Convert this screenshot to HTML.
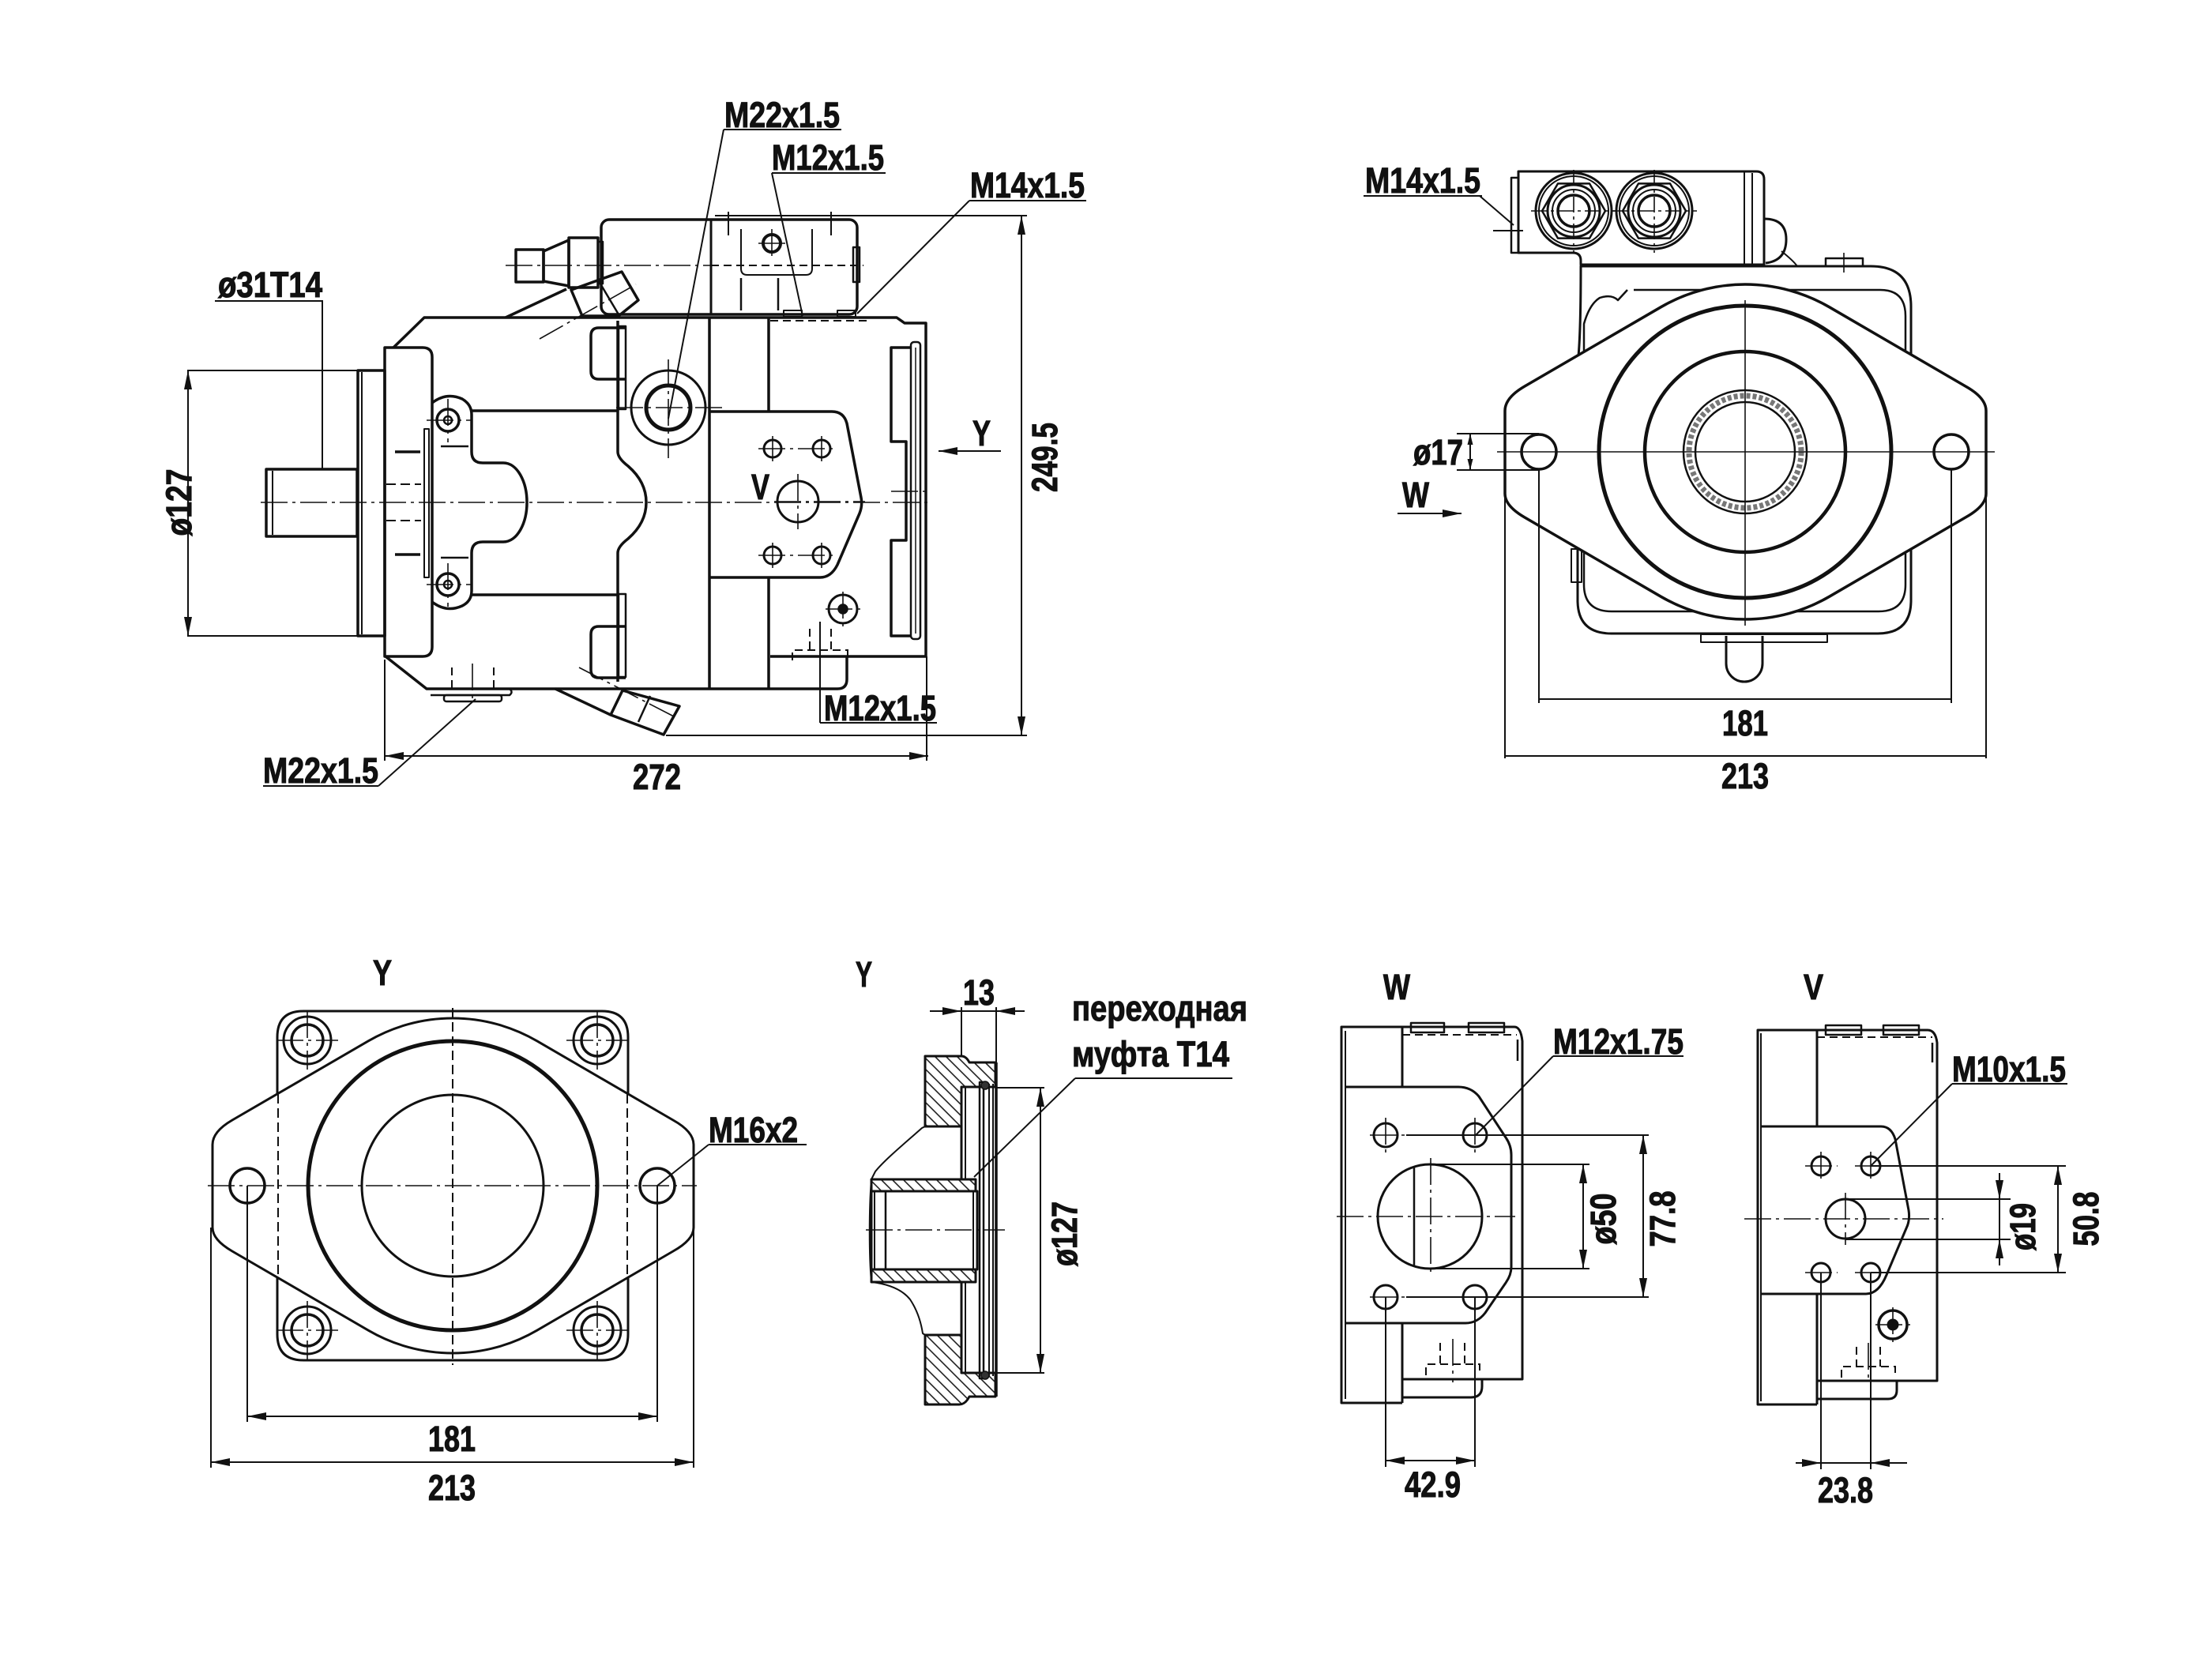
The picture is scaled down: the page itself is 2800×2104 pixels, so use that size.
<!DOCTYPE html>
<html><head><meta charset="utf-8">
<style>
html,body{margin:0;padding:0;background:#fff;}
svg{display:block;}
text{font-family:"Liberation Sans",Arial,sans-serif;font-weight:bold;font-size:45px;fill:#111;stroke:#111;stroke-width:1.1px;}
</style></head><body>
<svg width="2800" height="2104" viewBox="0 0 2800 2104" xmlns="http://www.w3.org/2000/svg">
<defs>
<marker id="a" markerUnits="userSpaceOnUse" markerWidth="26" markerHeight="12" refX="24" refY="5" orient="auto-start-reverse"><path d="M0,0 L24,5 L0,10 Z" fill="#111"/></marker>
<marker id="b" markerUnits="userSpaceOnUse" markerWidth="16" markerHeight="8" refX="14" refY="3.5" orient="auto-start-reverse"><path d="M0,0 L14,3.5 L0,7 Z" fill="#111"/></marker>
<pattern id="h" patternUnits="userSpaceOnUse" width="14" height="14"><path d="M-2,-2 L16,16 M-9,5 L9,23 M5,-9 L23,9" stroke="#222" stroke-width="1.6"/></pattern>
</defs>
<rect width="2800" height="2104" fill="#fff"/>

<!-- ================= MAIN SIDE VIEW ================= -->
<g fill="none" stroke="#111" stroke-width="3.5" stroke-linejoin="round">
  <rect x="337" y="594" width="115" height="85"/>
  <line x1="345" y1="596" x2="345" y2="677" stroke-width="2"/>
  <rect x="453" y="469" width="34" height="336"/>
  <line x1="458" y1="471" x2="458" y2="803" stroke-width="2"/>
  <path d="M487 440 L535 440 Q547 440 547 452 L547 819 Q547 831 535 831 L487 831 Z"/>
  <rect x="537" y="543" width="6" height="188" stroke-width="2"/>
  <line x1="500" y1="572" x2="532" y2="572"/>
  <line x1="500" y1="702" x2="532" y2="702"/>
  <line x1="489" y1="613" x2="533" y2="613" stroke-width="2" stroke-dasharray="12 6"/>
  <line x1="489" y1="659" x2="533" y2="659" stroke-width="2" stroke-dasharray="12 6"/>
  <path d="M498 440 L537 402 L1135 402 L1145 409 L1172 409 L1172 831 L975 831"/>
  <path d="M488 831 L540 872 L1060 872 Q1072 872 1072 860 L1072 831"/>
  <line x1="640" y1="402" x2="717" y2="366"/>
  <line x1="703" y1="872" x2="773" y2="905"/>
  <path d="M782 406 L782 572 Q782 580 795 590 Q818 610 818 636 Q818 662 795 682 Q782 692 782 700 L782 863"/>
  <line x1="898" y1="402" x2="898" y2="872"/>
  <line x1="973" y1="402" x2="973" y2="521"/>
  <line x1="973" y1="731" x2="973" y2="872"/>
  <line x1="597" y1="520" x2="783" y2="520"/>
  <line x1="597" y1="753" x2="783" y2="753"/>
  <path d="M547 510 Q565 496 585 505 Q597 512 597 525 L597 572 Q597 586 611 586 L637 586 C655 586 667 610 667 636 C667 662 655 686 637 686 L611 686 Q597 686 597 700 L597 748 Q597 761 585 767 Q565 776 547 762"/>
  <line x1="558" y1="565" x2="593" y2="565" stroke-width="2.5"/>
  <line x1="558" y1="706" x2="593" y2="706" stroke-width="2.5"/>
  <circle cx="567" cy="532" r="14"/><circle cx="567" cy="532" r="5" stroke-width="2.5"/>
  <circle cx="567" cy="740" r="14"/><circle cx="567" cy="740" r="5" stroke-width="2.5"/>
  <path d="M792 415 L758 415 Q748 415 748 425 L748 470 Q748 480 758 480 L792 480"/>
  <path d="M792 793 L758 793 Q748 793 748 803 L748 848 Q748 858 758 858 L792 858"/>
  <rect x="783" y="413" width="9" height="105" stroke-width="2.5"/>
  <rect x="783" y="752" width="9" height="105" stroke-width="2.5"/>
  <circle cx="846" cy="516" r="47" stroke-width="3"/>
  <circle cx="846" cy="516" r="28" stroke-width="5"/>
  <rect x="653" y="316" width="35" height="41"/>
  <path d="M688 318 L720 304 L720 362 L688 356 Z"/>
  <rect x="720" y="301" width="37" height="63"/>
  <rect x="757" y="306" width="6" height="53" stroke-width="2.5"/>
  <path d="M723 367 L787 344 L808 380 L783 400 L737 400 Z"/>
  <line x1="758" y1="356" x2="783" y2="398" stroke-width="2.5"/>
  <path d="M773 905 L788 874 L860 894 L840 930 Z"/>
  <line x1="823" y1="881" x2="808" y2="914" stroke-width="2.5"/>
  <rect x="761" y="278" width="324" height="120" rx="10"/>
  <line x1="900" y1="278" x2="900" y2="398" stroke-width="3"/>
  <path d="M938 290 L938 340 Q938 348 946 348 L1020 348 Q1028 348 1028 340 L1028 290" stroke-width="2"/>
  <line x1="938" y1="352" x2="938" y2="393" stroke-width="2.5"/>
  <line x1="985" y1="352" x2="985" y2="393" stroke-width="2.5"/>
  <circle cx="977" cy="308" r="11" stroke-width="4"/>
  <line x1="922" y1="268" x2="922" y2="298" stroke-width="2"/>
  <line x1="1052" y1="268" x2="1052" y2="298" stroke-width="2"/>
  <rect x="1080" y="313" width="8" height="44" stroke-width="2.5"/>
  <rect x="992" y="393" width="23" height="8" stroke-width="2"/>
  <rect x="1060" y="393" width="23" height="8" stroke-width="2"/>
  <path d="M540 872 L645 872 Q650 876 645 880 L545 880" stroke-width="2.5"/>
  <rect x="562" y="880" width="73" height="8" rx="3" stroke-width="2.5"/>
  <path d="M898 521 L1053 521 Q1068 521 1072 536 L1090 630 Q1092 640 1088 650 L1060 715 Q1052 731 1038 731 L898 731"/>
  <circle cx="978" cy="568" r="11" stroke-width="3"/>
  <circle cx="1040" cy="568" r="11" stroke-width="3"/>
  <circle cx="978" cy="703" r="11" stroke-width="3"/>
  <circle cx="1040" cy="703" r="11" stroke-width="3"/>
  <circle cx="1010" cy="635" r="26" stroke-width="3"/>
  <circle cx="1067" cy="771" r="18" stroke-width="3"/>
  <circle cx="1067" cy="771" r="5" fill="#111"/>
  <path d="M1153 440 L1128 440 L1128 559 L1147 559 L1147 684 L1128 684 L1128 805 L1153 805"/>
  <rect x="1153" y="433" width="12" height="376" rx="4" stroke-width="2.5"/>
  <line x1="1159" y1="440" x2="1159" y2="802" stroke-width="1.5"/>
</g>
<g fill="none" stroke="#111" stroke-width="2" stroke-dasharray="10 6">
  <line x1="572" y1="845" x2="572" y2="874"/>
  <line x1="625" y1="845" x2="625" y2="874"/>
  <path d="M1003 836 L1003 823 L1073 823 L1073 836"/>
  <line x1="1025" y1="796" x2="1025" y2="823"/>
  <line x1="1052" y1="796" x2="1052" y2="823"/>
  <line x1="975" y1="406" x2="1100" y2="406"/>
  <line x1="900" y1="336" x2="1093" y2="336"/>
</g>
<g fill="none" stroke="#111" stroke-width="1.6" stroke-dasharray="34 6 4 6">
  <line x1="330" y1="636" x2="1180" y2="636"/>
  <line x1="640" y1="336" x2="900" y2="336"/>
  <line x1="780" y1="516" x2="915" y2="516"/>
  <line x1="846" y1="455" x2="846" y2="580"/>
  <line x1="540" y1="532" x2="598" y2="532"/>
  <line x1="567" y1="505" x2="567" y2="560"/>
  <line x1="540" y1="740" x2="598" y2="740"/>
  <line x1="567" y1="713" x2="567" y2="768"/>
  <line x1="683" y1="429" x2="805" y2="360"/>
  <line x1="733" y1="845" x2="853" y2="907"/>
  <line x1="598" y1="840" x2="598" y2="890"/>
  <line x1="960" y1="568" x2="1058" y2="568"/>
  <line x1="960" y1="703" x2="1058" y2="703"/>
  <line x1="978" y1="552" x2="978" y2="584"/>
  <line x1="1040" y1="552" x2="1040" y2="584"/>
  <line x1="978" y1="687" x2="978" y2="719"/>
  <line x1="1040" y1="687" x2="1040" y2="719"/>
  <line x1="980" y1="635" x2="1095" y2="635"/>
  <line x1="1010" y1="600" x2="1010" y2="670"/>
  <line x1="1045" y1="771" x2="1090" y2="771"/>
  <line x1="1067" y1="749" x2="1067" y2="793"/>
  <line x1="1038" y1="796" x2="1038" y2="836"/>
  <line x1="960" y1="308" x2="995" y2="308"/>
  <line x1="977" y1="290" x2="977" y2="326"/>
  <line x1="1128" y1="622" x2="1172" y2="622"/>
</g>
<g fill="none" stroke="#111" stroke-width="2">
  <line x1="237" y1="469" x2="452" y2="469"/>
  <line x1="237" y1="805" x2="452" y2="805"/>
  <line x1="238" y1="469" x2="238" y2="805" marker-start="url(#a)" marker-end="url(#a)"/>
  <polyline points="272,381 408,381 408,594"/>
  <line x1="905" y1="273" x2="1300" y2="273"/>
  <line x1="843" y1="931" x2="1300" y2="931"/>
  <line x1="1293" y1="273" x2="1293" y2="931" marker-start="url(#a)" marker-end="url(#a)"/>
  <line x1="487" y1="835" x2="487" y2="963"/>
  <line x1="1173" y1="831" x2="1173" y2="963"/>
  <line x1="487" y1="957" x2="1175" y2="957" marker-start="url(#a)" marker-end="url(#a)"/>
  <line x1="1267" y1="571" x2="1188" y2="571" marker-end="url(#a)"/>
  <line x1="916" y1="164" x2="1065" y2="164"/>
  <line x1="916" y1="164" x2="846" y2="530"/>
  <line x1="977" y1="219" x2="1121" y2="219"/>
  <line x1="977" y1="219" x2="1016" y2="400"/>
  <line x1="1227" y1="254" x2="1375" y2="254"/>
  <line x1="1227" y1="254" x2="1085" y2="397"/>
  <line x1="1038" y1="787" x2="1038" y2="915"/>
  <line x1="1038" y1="915" x2="1186" y2="915"/>
  <line x1="333" y1="995" x2="479" y2="995"/>
  <line x1="479" y1="995" x2="602" y2="885"/>
</g>
<text x="917" y="161" textLength="146" lengthAdjust="spacingAndGlyphs">M22x1.5</text>
<text x="977" y="215" textLength="142" lengthAdjust="spacingAndGlyphs">M12x1.5</text>
<text x="1228" y="250" textLength="145" lengthAdjust="spacingAndGlyphs">M14x1.5</text>
<text x="276" y="376" textLength="132" lengthAdjust="spacingAndGlyphs">ø31T14</text>
<text x="801" y="999" textLength="61" lengthAdjust="spacingAndGlyphs">272</text>
<text x="1231" y="564" textLength="23" lengthAdjust="spacingAndGlyphs">Y</text>
<text x="951" y="632" textLength="23" lengthAdjust="spacingAndGlyphs">V</text>
<text x="1043" y="912" textLength="142" lengthAdjust="spacingAndGlyphs">M12x1.5</text>
<text x="333" y="991" textLength="146" lengthAdjust="spacingAndGlyphs">M22x1.5</text>
<text transform="translate(227,636) rotate(-90)" x="0" y="15" text-anchor="middle" textLength="85" lengthAdjust="spacingAndGlyphs">ø127</text>
<text transform="translate(1323,579) rotate(-90)" x="0" y="15" text-anchor="middle" textLength="88" lengthAdjust="spacingAndGlyphs">249.5</text>

<!-- ================= TOP RIGHT VIEW ================= -->
<g fill="none" stroke="#111" stroke-width="3" stroke-linejoin="round">
  <path d="M1997 760 L1997 460 Q2001 430 2001 337 L2368 337 Q2419 337 2419 388 L2419 760 Q2419 802 2377 802 L2040 802 Q1997 802 1997 760"/>
  <path d="M2005 690 L2005 740 Q2005 774 2040 774 L2378 774 Q2412 774 2412 740 L2412 400 Q2412 367 2380 367 L2068 367" stroke-width="2.5"/>
  <path d="M2005 470 L2005 410 Q2012 385 2025 377 Q2040 372 2048 380 L2060 367" stroke-width="2.5"/>
  <rect x="1989" y="695" width="13" height="42" stroke-width="2"/>
  <path d="M2185 805 L2185 840 A23 23 0 0 0 2231 840 L2231 805"/>
  <rect x="2153" y="803" width="160" height="10" stroke-width="2"/>
  <path d="M1922 217 L2223 217 Q2233 217 2233 227 L2233 335 L2001 335 L2001 330 Q2001 320 1991 320 L1922 320 Z"/>
  <rect x="1913" y="225" width="9" height="95" stroke-width="2.5"/>
  <line x1="2208" y1="217" x2="2208" y2="335" stroke-width="2"/>
  <line x1="2218" y1="219" x2="2218" y2="335" stroke-width="2"/>
  <path d="M2233 277 Q2261 277 2261 303 Q2261 330 2235 333"/>
  <path d="M2255 318 Q2270 330 2275 337" stroke-width="2"/>
  <rect x="2311" y="327" width="47" height="10" stroke-width="2.5"/>
  <circle cx="1992" cy="267" r="48"/><circle cx="1992" cy="267" r="44" stroke-width="2"/>
  <polygon points="2032,267 2012,301.6 1972,301.6 1952,267 1972,232.4 2012,232.4" stroke-width="2.5"/>
  <circle cx="1992" cy="267" r="33"/><circle cx="1992" cy="267" r="27" stroke-width="2"/><circle cx="1992" cy="267" r="20" stroke-width="3.5"/>
  <circle cx="2094" cy="267" r="48"/><circle cx="2094" cy="267" r="44" stroke-width="2"/>
  <polygon points="2134,267 2114,301.6 2074,301.6 2054,267 2074,232.4 2114,232.4" stroke-width="2.5"/>
  <circle cx="2094" cy="267" r="33"/><circle cx="2094" cy="267" r="27" stroke-width="2"/><circle cx="2094" cy="267" r="20" stroke-width="3.5"/>
  <path fill="#fff" stroke-width="3.5" d="M1905 520 Q1905 503.5 1930 489 L2102.5 388.7 A212 212 0 0 1 2315.5 388.7 L2488 489 Q2514 503.5 2514 520 L2514 625 Q2514 640.5 2488 655 L2315.5 755.3 A212 212 0 0 1 2102.5 755.3 L1930 655 Q1905 640.5 1905 625 Z"/>
  <circle cx="2209" cy="572" r="185" stroke-width="5"/>
  <circle cx="2209" cy="572" r="127" stroke-width="4.5"/>
  <circle cx="2209" cy="572" r="78" stroke-width="2.5"/>
  <circle cx="2209" cy="572" r="71" stroke-width="7" stroke="#777" stroke-dasharray="5 3"/>
  <circle cx="2209" cy="572" r="63" stroke-width="2.5"/>
  <circle cx="1948" cy="572" r="22" stroke-width="3.5"/>
  <circle cx="2470" cy="572" r="22" stroke-width="3.5"/>
</g>
<g fill="none" stroke="#111" stroke-width="1.6">
  <line x1="1895" y1="572" x2="2525" y2="572"/>
  <line x1="2209" y1="380" x2="2209" y2="792"/>
  <line x1="1992" y1="215" x2="1992" y2="320" stroke-dasharray="20 5 4 5"/>
  <line x1="1938" y1="267" x2="2046" y2="267" stroke-dasharray="20 5 4 5"/>
  <line x1="2094" y1="215" x2="2094" y2="320" stroke-dasharray="20 5 4 5"/>
  <line x1="2040" y1="267" x2="2148" y2="267" stroke-dasharray="20 5 4 5"/>
  <line x1="2334" y1="320" x2="2334" y2="345"/>
</g>
<g fill="none" stroke="#111" stroke-width="2">
  <line x1="1726" y1="248" x2="1876" y2="248"/>
  <line x1="1873" y1="248" x2="1916" y2="285"/>
  <line x1="1890" y1="292" x2="1928" y2="292"/>
  <line x1="1844" y1="549" x2="1948" y2="549"/>
  <line x1="1844" y1="595" x2="1948" y2="595"/>
  <line x1="1861" y1="549" x2="1861" y2="595" marker-start="url(#b)" marker-end="url(#b)"/>
  <line x1="1769" y1="650" x2="1850" y2="650" marker-end="url(#a)"/>
  <line x1="1948" y1="595" x2="1948" y2="890"/>
  <line x1="2470" y1="595" x2="2470" y2="890"/>
  <line x1="1948" y1="885" x2="2470" y2="885"/>
  <line x1="1905" y1="625" x2="1905" y2="960"/>
  <line x1="2514" y1="625" x2="2514" y2="960"/>
  <line x1="1905" y1="957" x2="2514" y2="957"/>
</g>
<text x="1728" y="244" textLength="146" lengthAdjust="spacingAndGlyphs">M14x1.5</text>
<text x="1789" y="588" textLength="63" lengthAdjust="spacingAndGlyphs">ø17</text>
<text x="1775" y="642" textLength="34" lengthAdjust="spacingAndGlyphs">W</text>
<text x="2209" y="931" text-anchor="middle" textLength="58" lengthAdjust="spacingAndGlyphs">181</text>
<text x="2209" y="998" text-anchor="middle" textLength="60" lengthAdjust="spacingAndGlyphs">213</text>

<!-- ================= BOTTOM LEFT VIEW Y ================= -->
<g fill="none" stroke="#111" stroke-width="3" stroke-linejoin="round">
  <path d="M351 1385 L351 1313 Q351 1280 384 1280 L762 1280 Q795 1280 795 1313 L795 1385"/>
  <path d="M351 1617 L351 1689 Q351 1722 384 1722 L762 1722 Q795 1722 795 1689 L795 1617"/>
  <g transform="translate(-1636,929)">
    <path d="M1905 520 Q1905 503.5 1930 489 L2102.5 388.7 A212 212 0 0 1 2315.5 388.7 L2488 489 Q2514 503.5 2514 520 L2514 625 Q2514 640.5 2488 655 L2315.5 755.3 A212 212 0 0 1 2102.5 755.3 L1930 655 Q1905 640.5 1905 625 Z"/>
  </g>
  <circle cx="573" cy="1501" r="183" stroke-width="5"/>
  <circle cx="573" cy="1501" r="115" stroke-width="3"/>
  <circle cx="313" cy="1501" r="22" stroke-width="3.5"/>
  <circle cx="832" cy="1501" r="22" stroke-width="3.5"/>
  <circle cx="389" cy="1317" r="30"/><circle cx="389" cy="1317" r="20" stroke-width="3.5"/>
  <circle cx="756" cy="1317" r="30"/><circle cx="756" cy="1317" r="20" stroke-width="3.5"/>
  <circle cx="389" cy="1684" r="30"/><circle cx="389" cy="1684" r="20" stroke-width="3.5"/>
  <circle cx="756" cy="1684" r="30"/><circle cx="756" cy="1684" r="20" stroke-width="3.5"/>
</g>
<g fill="none" stroke="#111" stroke-width="2" stroke-dasharray="12 6">
  <line x1="352" y1="1385" x2="352" y2="1617"/>
  <line x1="794" y1="1385" x2="794" y2="1617"/>
  <line x1="573" y1="1276" x2="573" y2="1728"/>
</g>
<g fill="none" stroke="#111" stroke-width="1.6" stroke-dasharray="34 6 4 6">
  <line x1="263" y1="1501" x2="882" y2="1501"/>
  <line x1="350" y1="1317" x2="428" y2="1317"/><line x1="389" y1="1280" x2="389" y2="1354"/>
  <line x1="717" y1="1317" x2="795" y2="1317"/><line x1="756" y1="1280" x2="756" y2="1354"/>
  <line x1="350" y1="1684" x2="428" y2="1684"/><line x1="389" y1="1647" x2="389" y2="1721"/>
  <line x1="717" y1="1684" x2="795" y2="1684"/><line x1="756" y1="1647" x2="756" y2="1721"/>
</g>
<g fill="none" stroke="#111" stroke-width="2">
  <line x1="313" y1="1501" x2="313" y2="1800"/>
  <line x1="832" y1="1501" x2="832" y2="1800"/>
  <line x1="313" y1="1793" x2="832" y2="1793" marker-start="url(#a)" marker-end="url(#a)"/>
  <line x1="267" y1="1554" x2="267" y2="1858"/>
  <line x1="878" y1="1554" x2="878" y2="1858"/>
  <line x1="267" y1="1851" x2="878" y2="1851" marker-start="url(#a)" marker-end="url(#a)"/>
  <line x1="897" y1="1449" x2="1021" y2="1449"/>
  <line x1="897" y1="1449" x2="832" y2="1501"/>
</g>
<text x="472" y="1247" textLength="24" lengthAdjust="spacingAndGlyphs">Y</text>
<text x="897" y="1446" textLength="113" lengthAdjust="spacingAndGlyphs">M16x2</text>
<text x="572" y="1837" text-anchor="middle" textLength="60" lengthAdjust="spacingAndGlyphs">181</text>
<text x="572" y="1899" text-anchor="middle" textLength="60" lengthAdjust="spacingAndGlyphs">213</text>

<!-- ================= SECTION Y ================= -->
<g stroke="#111" stroke-width="3" stroke-linejoin="round">
  <path fill="url(#h)" d="M1171 1337 L1217 1337 Q1223 1337 1227 1345 L1260 1345 L1260 1376 L1217 1376 L1217 1426 L1171 1426 Z"/>
  <path fill="url(#h)" d="M1171 1690 L1217 1690 L1217 1738 L1260 1738 L1260 1768 L1227 1768 Q1222 1778 1214 1778 L1171 1778 Z"/>
  <rect fill="url(#h)" x="1103" y="1493" width="132" height="15"/>
  <rect fill="url(#h)" x="1103" y="1607" width="132" height="16"/>
</g>
<g fill="none" stroke="#111" stroke-width="3" stroke-linejoin="round">
  <path d="M1171 1426 L1167 1428 C1148 1445 1120 1468 1108 1483 L1103 1493" stroke-width="2"/>
  <path d="M1103 1623 C1120 1625 1140 1630 1152 1645 C1162 1660 1166 1675 1168 1688 L1171 1690" stroke-width="2"/>
  <path d="M1103 1493 C1100 1530 1100 1590 1103 1623" stroke-width="2"/>
  <rect x="1103" y="1508" width="134" height="99"/>
  <line x1="1107" y1="1508" x2="1107" y2="1607" stroke-width="2"/>
  <line x1="1121" y1="1508" x2="1121" y2="1607" stroke-width="2.5"/>
  <line x1="1232" y1="1508" x2="1232" y2="1607" stroke-width="2"/>
  <line x1="1217" y1="1376" x2="1217" y2="1493"/>
  <line x1="1217" y1="1623" x2="1217" y2="1738"/>
  <line x1="1222" y1="1376" x2="1222" y2="1493" stroke-width="2"/>
  <line x1="1222" y1="1623" x2="1222" y2="1738" stroke-width="2"/>
  <rect x="1240" y="1370" width="5" height="375" stroke-width="2.5"/>
  <line x1="1252" y1="1372" x2="1252" y2="1742" stroke-width="2"/>
  <line x1="1257" y1="1372" x2="1257" y2="1742" stroke-width="2"/>
  <line x1="1261" y1="1345" x2="1261" y2="1768" stroke-width="3.5"/>
  <line x1="1217" y1="1376" x2="1261" y2="1376" stroke-width="2"/>
  <line x1="1217" y1="1738" x2="1261" y2="1738" stroke-width="2"/>
  <circle cx="1247" cy="1374" r="5" fill="#333" stroke-width="1.5"/>
  <circle cx="1247" cy="1741" r="5" fill="#333" stroke-width="1.5"/>
</g>
<g fill="none" stroke="#111" stroke-width="1.6" stroke-dasharray="34 6 4 6">
  <line x1="1096" y1="1557" x2="1272" y2="1557"/>
</g>
<g fill="none" stroke="#111" stroke-width="2">
  <line x1="1217" y1="1275" x2="1217" y2="1337"/>
  <line x1="1261" y1="1275" x2="1261" y2="1345"/>
  <line x1="1177" y1="1280" x2="1217" y2="1280" marker-end="url(#a)"/>
  <line x1="1297" y1="1280" x2="1261" y2="1280" marker-end="url(#a)"/>
  <line x1="1217" y1="1280" x2="1261" y2="1280"/>
  <line x1="1261" y1="1377" x2="1322" y2="1377"/>
  <line x1="1261" y1="1738" x2="1322" y2="1738"/>
  <line x1="1317" y1="1377" x2="1317" y2="1738" marker-start="url(#a)" marker-end="url(#a)"/>
  <line x1="1361" y1="1365" x2="1560" y2="1365"/>
  <line x1="1361" y1="1365" x2="1233" y2="1490"/>
</g>
<text x="1083" y="1249" textLength="21" lengthAdjust="spacingAndGlyphs">Y</text>
<text x="1219" y="1272" textLength="40" lengthAdjust="spacingAndGlyphs">13</text>
<text x="1357" y="1292" textLength="222" lengthAdjust="spacingAndGlyphs">переходная</text>
<text x="1357" y="1350" textLength="199" lengthAdjust="spacingAndGlyphs">муфта T14</text>
<text transform="translate(1348,1562) rotate(-90)" x="0" y="15" text-anchor="middle" textLength="82" lengthAdjust="spacingAndGlyphs">ø127</text>

<!-- ================= W VIEW ================= -->
<g fill="none" stroke="#111" stroke-width="3" stroke-linejoin="round">
  <path d="M1775 1776 L1698 1776 L1698 1300 L1917 1300 Q1925 1300 1927 1318 L1927 1746 L1775 1746"/>
  <path d="M1775 1746 L1775 1769 L1862 1769 Q1876 1769 1876 1755 L1876 1746"/>
  <line x1="1775" y1="1675" x2="1775" y2="1776"/>
  <line x1="1775" y1="1300" x2="1775" y2="1376"/>
  <line x1="1703" y1="1305" x2="1703" y2="1771" stroke-width="2"/>
  <line x1="1921" y1="1316" x2="1921" y2="1343" stroke-width="2.5"/>
  <path d="M1703 1376 L1846 1376 Q1862 1376 1872 1388 L1906 1440 Q1913 1450 1913 1462 L1913 1604 Q1913 1614 1906 1624 L1880 1662 Q1870 1675 1855 1675 L1703 1675"/>
  <rect x="1786" y="1295" width="42" height="12" stroke-width="2.5"/>
  <rect x="1859" y="1295" width="45" height="12" stroke-width="2.5"/>
  <circle cx="1754" cy="1437" r="15"/><circle cx="1867" cy="1437" r="15"/>
  <circle cx="1754" cy="1642" r="15"/><circle cx="1867" cy="1642" r="15"/>
  <circle cx="1810" cy="1540" r="66"/>
  <line x1="1790" y1="1477" x2="1790" y2="1603" stroke-width="2.5"/>
</g>
<g fill="none" stroke="#111" stroke-width="2" stroke-dasharray="10 6">
  <line x1="1775" y1="1310" x2="1920" y2="1310"/>
  <path d="M1805 1741 L1805 1727 L1873 1727 L1873 1741"/>
  <line x1="1823" y1="1700" x2="1823" y2="1727"/>
  <line x1="1854" y1="1700" x2="1854" y2="1727"/>
</g>
<g fill="none" stroke="#111" stroke-width="1.6" stroke-dasharray="34 6 4 6">
  <line x1="1692" y1="1540" x2="1918" y2="1540"/>
  <line x1="1811" y1="1466" x2="1811" y2="1612"/>
  <line x1="1734" y1="1437" x2="1780" y2="1437"/><line x1="1754" y1="1415" x2="1754" y2="1459"/>
  <line x1="1734" y1="1642" x2="1780" y2="1642"/>
  <line x1="1867" y1="1415" x2="1867" y2="1459"/>
  <line x1="1839" y1="1695" x2="1839" y2="1750"/>
</g>
<g fill="none" stroke="#111" stroke-width="2">
  <line x1="1780" y1="1437" x2="2087" y2="1437"/>
  <line x1="1780" y1="1642" x2="2087" y2="1642"/>
  <line x1="2080" y1="1437" x2="2080" y2="1642" marker-start="url(#a)" marker-end="url(#a)"/>
  <line x1="1811" y1="1474" x2="2012" y2="1474"/>
  <line x1="1811" y1="1606" x2="2012" y2="1606"/>
  <line x1="2004" y1="1474" x2="2004" y2="1606" marker-start="url(#a)" marker-end="url(#a)"/>
  <line x1="1754" y1="1642" x2="1754" y2="1857"/>
  <line x1="1867" y1="1642" x2="1867" y2="1857"/>
  <line x1="1754" y1="1849" x2="1867" y2="1849" marker-start="url(#a)" marker-end="url(#a)"/>
  <line x1="1966" y1="1337" x2="2131" y2="1337"/>
  <line x1="1966" y1="1337" x2="1868" y2="1437"/>
</g>
<text x="1751" y="1265" textLength="34" lengthAdjust="spacingAndGlyphs">W</text>
<text x="1966" y="1334" textLength="165" lengthAdjust="spacingAndGlyphs">M12x1.75</text>
<text x="1778" y="1895" textLength="71" lengthAdjust="spacingAndGlyphs">42.9</text>
<text transform="translate(2031,1543) rotate(-90)" x="0" y="14" text-anchor="middle" textLength="65" lengthAdjust="spacingAndGlyphs">ø50</text>
<text transform="translate(2105,1543) rotate(-90)" x="0" y="15" text-anchor="middle" textLength="71" lengthAdjust="spacingAndGlyphs">77.8</text>

<!-- ================= V VIEW ================= -->
<g fill="none" stroke="#111" stroke-width="3" stroke-linejoin="round">
  <path d="M2300 1778 L2225 1778 L2225 1304 L2440 1304 Q2450 1304 2452 1320 L2452 1748 L2300 1748"/>
  <path d="M2300 1748 L2300 1771 L2390 1771 Q2401 1771 2401 1760 L2401 1748"/>
  <line x1="2300" y1="1638" x2="2300" y2="1778"/>
  <line x1="2300" y1="1304" x2="2300" y2="1426"/>
  <line x1="2229" y1="1308" x2="2229" y2="1774" stroke-width="2"/>
  <line x1="2446" y1="1320" x2="2446" y2="1345" stroke-width="2.5"/>
  <path d="M2229 1426 L2381 1426 Q2394 1426 2399 1442 L2416 1532 Q2418 1545 2413 1555 L2388 1614 Q2378 1638 2362 1638 L2229 1638"/>
  <rect x="2311" y="1298" width="45" height="12" stroke-width="2.5"/>
  <rect x="2384" y="1298" width="45" height="12" stroke-width="2.5"/>
  <circle cx="2305" cy="1476" r="12"/><circle cx="2368" cy="1476" r="12"/>
  <circle cx="2305" cy="1611" r="12"/><circle cx="2368" cy="1611" r="12"/>
  <circle cx="2336" cy="1543" r="25"/>
  <circle cx="2396" cy="1677" r="18" stroke-width="3.5"/>
  <circle cx="2396" cy="1677" r="6" fill="#111"/>
</g>
<g fill="none" stroke="#111" stroke-width="2" stroke-dasharray="10 6">
  <line x1="2300" y1="1313" x2="2446" y2="1313"/>
  <path d="M2331 1744 L2331 1730 L2399 1730 L2399 1744"/>
  <line x1="2350" y1="1705" x2="2350" y2="1730"/>
  <line x1="2380" y1="1705" x2="2380" y2="1730"/>
</g>
<g fill="none" stroke="#111" stroke-width="1.6" stroke-dasharray="34 6 4 6">
  <line x1="2208" y1="1543" x2="2460" y2="1543"/>
  <line x1="2336" y1="1510" x2="2336" y2="1576"/>
  <line x1="2285" y1="1476" x2="2326" y2="1476"/><line x1="2305" y1="1458" x2="2305" y2="1494"/>
  <line x1="2285" y1="1611" x2="2326" y2="1611"/>
  <line x1="2348" y1="1476" x2="2388" y2="1476"/><line x1="2368" y1="1458" x2="2368" y2="1494"/>
  <line x1="2348" y1="1611" x2="2388" y2="1611"/>
  <line x1="2374" y1="1677" x2="2418" y2="1677"/><line x1="2396" y1="1655" x2="2396" y2="1699"/>
  <line x1="2365" y1="1700" x2="2365" y2="1750"/>
</g>
<g fill="none" stroke="#111" stroke-width="2">
  <line x1="2368" y1="1476" x2="2615" y2="1476"/>
  <line x1="2368" y1="1611" x2="2615" y2="1611"/>
  <line x1="2605" y1="1476" x2="2605" y2="1611" marker-start="url(#a)" marker-end="url(#a)"/>
  <line x1="2336" y1="1518" x2="2545" y2="1518"/>
  <line x1="2336" y1="1569" x2="2545" y2="1569"/>
  <line x1="2531" y1="1485" x2="2531" y2="1518" marker-end="url(#a)"/>
  <line x1="2531" y1="1602" x2="2531" y2="1569" marker-end="url(#a)"/>
  <line x1="2531" y1="1518" x2="2531" y2="1569"/>
  <line x1="2305" y1="1611" x2="2305" y2="1860"/>
  <line x1="2368" y1="1611" x2="2368" y2="1860"/>
  <line x1="2273" y1="1852" x2="2305" y2="1852" marker-end="url(#a)"/>
  <line x1="2414" y1="1852" x2="2368" y2="1852" marker-end="url(#a)"/>
  <line x1="2305" y1="1852" x2="2368" y2="1852"/>
  <line x1="2471" y1="1372" x2="2617" y2="1372"/>
  <line x1="2471" y1="1372" x2="2368" y2="1476"/>
</g>
<text x="2283" y="1265" textLength="25" lengthAdjust="spacingAndGlyphs">V</text>
<text x="2471" y="1369" textLength="144" lengthAdjust="spacingAndGlyphs">M10x1.5</text>
<text x="2301" y="1902" textLength="70" lengthAdjust="spacingAndGlyphs">23.8</text>
<text transform="translate(2562,1553) rotate(-90)" x="0" y="14" text-anchor="middle" textLength="60" lengthAdjust="spacingAndGlyphs">ø19</text>
<text transform="translate(2641,1543) rotate(-90)" x="0" y="15" text-anchor="middle" textLength="69" lengthAdjust="spacingAndGlyphs">50.8</text>
</svg>
</body></html>
